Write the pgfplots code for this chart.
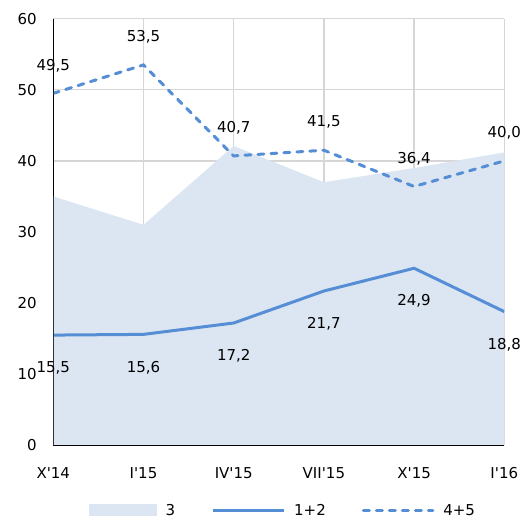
\documentclass[border=0pt]{standalone}
\usepackage{fontspec}
\setmainfont{DejaVu Sans}
\usepackage{pgfplots}
\pgfplotsset{compat=1.18}
\definecolor{areacol}{RGB}{220,230,242}
\definecolor{linecol}{RGB}{85,142,213}
\definecolor{gridcol}{RGB}{214,214,214}
\pgfplotsset{
  mylabels/.style={nodes near coords={\pgfmathprintnumber[fixed,fixed zerofill,precision=1,use comma,assume math mode=true]{\pgfplotspointmeta}}},
}
\begin{document}
\begin{tikzpicture}[font=\fontsize{15}{18}\selectfont]
\useasboundingbox (0,0) rectangle (531pt,522pt);
\begin{axis}[
  at={(53.3pt,76.7pt)}, anchor=south west,
  scale only axis, width=451pt, height=426.6pt,
  xmin=0, xmax=5, ymin=0, ymax=60,
  xtick={0,1,2,3,4,5},
  xticklabels={X\textquotesingle14, I\textquotesingle15, IV\textquotesingle15, VII\textquotesingle15, X\textquotesingle15, I\textquotesingle16},
  ytick={0,10,20,30,40,50,60},
  axis lines*=left,
  axis line style={black, line width=1.5pt},
  major tick length=0pt,
  grid=major,
  major grid style={gridcol, line width=1.3pt},
  /pgf/number format/assume math mode=true,
  yticklabel style={anchor=east, xshift=-13pt},
  xticklabel style={yshift=-19pt},
  legend columns=3,
  legend style={draw=none, at={(0.5,0)}, anchor=center, yshift=-65pt, xshift=4pt,
    /tikz/every even column/.append style={column sep=34pt},
    /tikz/every odd column/.append style={column sep=7pt}},
]
\addplot[fill=areacol, draw=none,
  legend image code/.code={\fill[areacol] (0pt,-6pt) rectangle (68pt,6pt);}]
  coordinates {(0,35.0) (1,31.0) (2,42.1) (3,37.0) (4,39.0) (5,41.2)} \closedcycle;
\addlegendentry{3}
\addplot[linecol, line width=3pt, mark=none, mylabels,
  every node near coord/.style={anchor=center, yshift=-33pt, black},
  legend image code/.code={\draw[linecol, line width=3pt] (0pt,0pt) -- (71pt,0pt);}]
  coordinates {(0,15.5) (1,15.6) (2,17.2) (3,21.7) (4,24.9) (5,18.8)};
\addlegendentry{1+2}
\addplot[linecol, line width=3pt, mark=none, line cap=round, dash pattern=on 6pt off 7pt, mylabels,
  every node near coord/.style={anchor=center, yshift=28pt, black},
  legend image code/.code={\draw[linecol, line width=3pt, line cap=round, dash pattern=on 6pt off 7pt] (1.5pt,0pt) -- (71pt,0pt);}]
  coordinates {(0,49.5) (1,53.5) (2,40.7) (3,41.5) (4,36.4) (5,40.0)};
\addlegendentry{4+5}
\draw[black, line width=1.5pt] (rel axis cs:0,1) -- (rel axis cs:0,0) -- (rel axis cs:1,0);
\end{axis}
\end{tikzpicture}
\end{document}
